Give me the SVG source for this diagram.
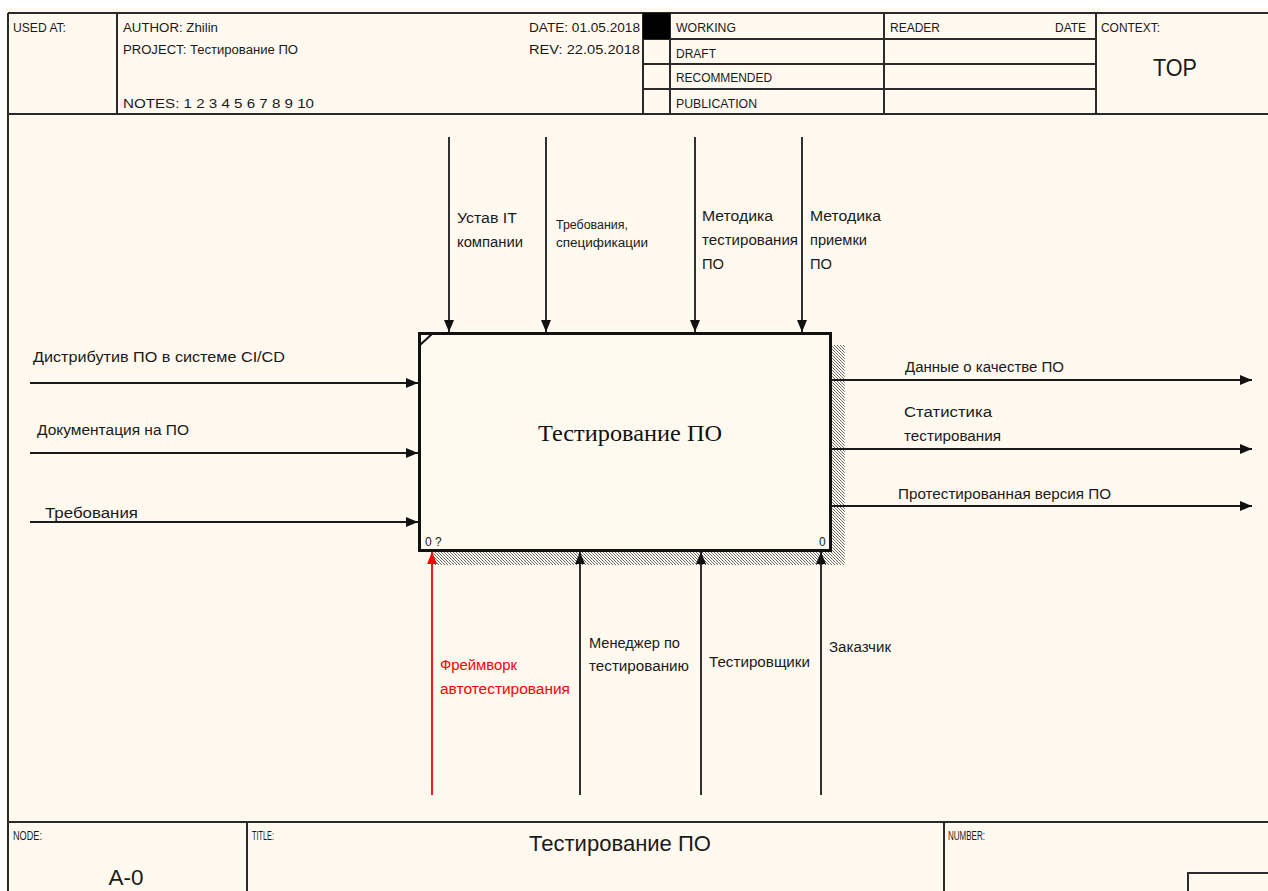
<svg xmlns="http://www.w3.org/2000/svg" width="1268" height="891" viewBox="0 0 1268 891">
<defs>
<style>
.frame{fill:none;stroke:#2a2a2a;stroke-width:2}
.t{font-family:"Liberation Sans",Arial,sans-serif;fill:#1a1a1a}
.hs{font-size:12px}
.lb{font-size:15.5px}
.sm{font-size:12.5px}
.conn{stroke:#1a1a1a;stroke-width:1.8;fill:none}
.red{stroke:#ff0000}
</style>
<marker id="ah" viewBox="0 0 12 10" refX="12" refY="5" markerWidth="12" markerHeight="10" markerUnits="userSpaceOnUse" orient="auto">
<path d="M0,0 L12,5 L0,10 Z" fill="#111"/>
</marker>
<marker id="ahr" viewBox="0 0 12 10" refX="12" refY="5" markerWidth="12" markerHeight="10" markerUnits="userSpaceOnUse" orient="auto">
<path d="M0,0 L12,5 L0,10 Z" fill="#ff0000"/>
</marker>
<pattern id="hatch" width="3" height="3" patternUnits="userSpaceOnUse">
<rect width="3" height="3" fill="#fffaf0"/>
<rect x="0" y="0" width="1" height="1" fill="#666"/>
<rect x="1" y="1" width="1" height="1" fill="#888"/>
<rect x="2" y="2" width="1" height="1" fill="#666"/>
</pattern>
</defs>
<rect width="1268" height="891" fill="#ffffff"/>
<rect x="6" y="8" width="1262" height="883" fill="#fff9ef"/>

<g id="header">
<line class="frame" x1="8" y1="13" x2="1268" y2="13"/>
<line class="frame" x1="8" y1="114" x2="1268" y2="114"/>
<line class="frame" x1="8" y1="13" x2="8" y2="891"/>
<line class="frame" x1="117" y1="13" x2="117" y2="114"/>
<line class="frame" x1="643" y1="13" x2="643" y2="114"/>
<line class="frame" x1="670" y1="13" x2="670" y2="114"/>
<line class="frame" x1="884" y1="13" x2="884" y2="114"/>
<line class="frame" x1="1096" y1="13" x2="1096" y2="114"/>
<line class="frame" x1="643" y1="39" x2="1096" y2="39"/>
<line class="frame" x1="643" y1="64" x2="1096" y2="64"/>
<line class="frame" x1="643" y1="89" x2="1096" y2="89"/>
<rect x="643" y="13" width="27" height="26" fill="#000"/>
<text class="t hs" x="13" y="32" textLength="53" lengthAdjust="spacingAndGlyphs">USED AT:</text>
<text class="t hs" x="123" y="32" textLength="95" lengthAdjust="spacingAndGlyphs">AUTHOR:  Zhilin</text>
<text class="t hs" x="123" y="54" textLength="175" lengthAdjust="spacingAndGlyphs">PROJECT:  Тестирование ПО</text>
<text class="t hs" x="123" y="108" textLength="191" lengthAdjust="spacingAndGlyphs">NOTES:  1  2  3  4  5  6  7  8  9  10</text>
<text class="t hs" x="529" y="32" textLength="111" lengthAdjust="spacingAndGlyphs">DATE:  01.05.2018</text>
<text class="t hs" x="529" y="54" textLength="111" lengthAdjust="spacingAndGlyphs">REV:    22.05.2018</text>
<text class="t hs" x="676" y="32" textLength="60" lengthAdjust="spacingAndGlyphs">WORKING</text>
<text class="t hs" x="676" y="58" textLength="40" lengthAdjust="spacingAndGlyphs">DRAFT</text>
<text class="t hs" x="676" y="82" textLength="96" lengthAdjust="spacingAndGlyphs">RECOMMENDED</text>
<text class="t hs" x="676" y="108" textLength="81" lengthAdjust="spacingAndGlyphs">PUBLICATION</text>
<text class="t hs" x="890" y="32" textLength="50" lengthAdjust="spacingAndGlyphs">READER</text>
<text class="t hs" x="1055" y="32" textLength="31" lengthAdjust="spacingAndGlyphs">DATE</text>
<text class="t hs" x="1101" y="32" textLength="59" lengthAdjust="spacingAndGlyphs">CONTEXT:</text>
<text class="t" x="1175" y="76" font-size="23" text-anchor="middle" textLength="44" lengthAdjust="spacingAndGlyphs">TOP</text>
</g>

<g id="footer">
<line class="frame" x1="8" y1="822" x2="1268" y2="822"/>
<line class="frame" x1="247" y1="822" x2="247" y2="891"/>
<line class="frame" x1="944" y1="822" x2="944" y2="891"/>
<polyline class="frame" points="1188,891 1188,873 1268,873"/>
<text class="t hs" x="13" y="840" textLength="29" lengthAdjust="spacingAndGlyphs">NODE:</text>
<text class="t" x="126" y="885" font-size="22" text-anchor="middle" textLength="35" lengthAdjust="spacingAndGlyphs">A-0</text>
<text class="t hs" x="252" y="840" textLength="22" lengthAdjust="spacingAndGlyphs">TITLE:</text>
<text class="t" x="620" y="851" font-size="22" text-anchor="middle" textLength="182" lengthAdjust="spacingAndGlyphs">Тестирование ПО</text>
<text class="t hs" x="948" y="840" textLength="37" lengthAdjust="spacingAndGlyphs">NUMBER:</text>
</g>

<g id="A0">
<rect x="830" y="345" width="15" height="220" fill="url(#hatch)"/>
<rect x="431" y="550" width="414" height="15" fill="url(#hatch)"/>
<rect x="419.5" y="333.5" width="411" height="217" fill="#fffaf0" stroke="#111" stroke-width="3"/>
<line x1="420" y1="345" x2="432" y2="334" stroke="#111" stroke-width="2"/>
<text x="630" y="441" font-family="'Liberation Serif','Times New Roman',serif" font-size="23" fill="#111" text-anchor="middle" textLength="184" lengthAdjust="spacingAndGlyphs">Тестирование ПО</text>
<text class="t" x="425" y="546" font-size="12" fill="#556">0 ?</text>
<text class="t" x="819" y="546" font-size="12" fill="#556">0</text>
</g>

<g id="connectors">
<line class="conn" x1="449" y1="137" x2="449" y2="332" marker-end="url(#ah)"/>
<line class="conn" x1="546" y1="137" x2="546" y2="332" marker-end="url(#ah)"/>
<line class="conn" x1="695" y1="137" x2="695" y2="332" marker-end="url(#ah)"/>
<line class="conn" x1="802" y1="137" x2="802" y2="332" marker-end="url(#ah)"/>
<line class="conn" x1="30" y1="383" x2="418" y2="383" marker-end="url(#ah)"/>
<line class="conn" x1="30" y1="453" x2="418" y2="453" marker-end="url(#ah)"/>
<line class="conn" x1="30" y1="522" x2="418" y2="522" marker-end="url(#ah)"/>
<line class="conn" x1="831" y1="380" x2="1252" y2="380" marker-end="url(#ah)"/>
<line class="conn" x1="831" y1="449" x2="1252" y2="449" marker-end="url(#ah)"/>
<line class="conn" x1="831" y1="506" x2="1252" y2="506" marker-end="url(#ah)"/>
<line class="conn red" x1="432" y1="795" x2="432" y2="552" marker-end="url(#ahr)"/>
<line class="conn" x1="580" y1="795" x2="580" y2="552" marker-end="url(#ah)"/>
<line class="conn" x1="701" y1="795" x2="701" y2="552" marker-end="url(#ah)"/>
<line class="conn" x1="821" y1="795" x2="821" y2="552" marker-end="url(#ah)"/>
</g>

<g id="labels">
<text class="t lb" x="457" y="223" textLength="60" lengthAdjust="spacingAndGlyphs">Устав IT</text>
<text class="t lb" x="457" y="247" textLength="66" lengthAdjust="spacingAndGlyphs">компании</text>
<text class="t sm" x="556" y="229" textLength="72" lengthAdjust="spacingAndGlyphs">Требования,</text>
<text class="t sm" x="556" y="247" textLength="92" lengthAdjust="spacingAndGlyphs">спецификации</text>
<text class="t lb" x="702" y="221" textLength="71" lengthAdjust="spacingAndGlyphs">Методика</text>
<text class="t lb" x="702" y="245" textLength="96" lengthAdjust="spacingAndGlyphs">тестирования</text>
<text class="t lb" x="702" y="269" textLength="22" lengthAdjust="spacingAndGlyphs">ПО</text>
<text class="t lb" x="810" y="221" textLength="71" lengthAdjust="spacingAndGlyphs">Методика</text>
<text class="t lb" x="810" y="245" textLength="57" lengthAdjust="spacingAndGlyphs">приемки</text>
<text class="t lb" x="810" y="269" textLength="22" lengthAdjust="spacingAndGlyphs">ПО</text>
<text class="t lb" x="33" y="362" textLength="252" lengthAdjust="spacingAndGlyphs">Дистрибутив ПО в системе CI/CD</text>
<text class="t lb" x="37" y="435" textLength="152" lengthAdjust="spacingAndGlyphs">Документация на ПО</text>
<text class="t lb" x="45" y="518" textLength="93" lengthAdjust="spacingAndGlyphs">Требования</text>
<text class="t lb" x="905" y="372" textLength="159" lengthAdjust="spacingAndGlyphs">Данные о качестве ПО</text>
<text class="t lb" x="904" y="417" textLength="88" lengthAdjust="spacingAndGlyphs">Статистика</text>
<text class="t lb" x="904" y="441" textLength="97" lengthAdjust="spacingAndGlyphs">тестирования</text>
<text class="t lb" x="898" y="499" textLength="213" lengthAdjust="spacingAndGlyphs">Протестированная версия ПО</text>
<text class="t lb" x="440" y="670" style="fill:#ff0000" textLength="77" lengthAdjust="spacingAndGlyphs">Фреймворк</text>
<text class="t lb" x="440" y="694" style="fill:#ff0000" textLength="130" lengthAdjust="spacingAndGlyphs">автотестирования</text>
<text class="t lb" x="589" y="648" textLength="91" lengthAdjust="spacingAndGlyphs">Менеджер по</text>
<text class="t lb" x="589" y="671" textLength="100" lengthAdjust="spacingAndGlyphs">тестированию</text>
<text class="t lb" x="709" y="667" textLength="101" lengthAdjust="spacingAndGlyphs">Тестировщики</text>
<text class="t lb" x="829" y="652" textLength="62" lengthAdjust="spacingAndGlyphs">Заказчик</text>
</g>
</svg>
